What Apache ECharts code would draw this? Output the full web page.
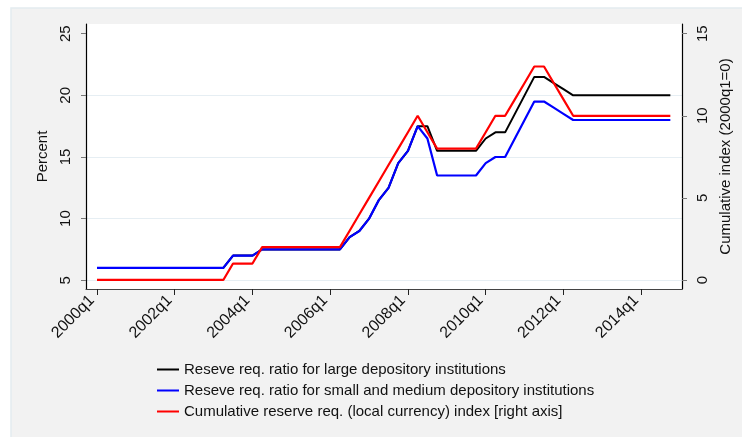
<!DOCTYPE html>
<html>
<head>
<meta charset="utf-8">
<script src="https://cdn.jsdelivr.net/npm/echarts@6/dist/echarts.min.js"></script>
<style>
html,body{margin:0;padding:0;background:#fff;overflow:hidden;}
#chart{width:742px;height:437px;}
</style>
</head>
<body>
<div id="chart"></div>
<script>
const categories = [
  '2000q1','2000q2','2000q3','2000q4','2001q1','2001q2','2001q3','2001q4',
  '2002q1','2002q2','2002q3','2002q4','2003q1','2003q2','2003q3','2003q4',
  '2004q1','2004q2','2004q3','2004q4','2005q1','2005q2','2005q3','2005q4',
  '2006q1','2006q2','2006q3','2006q4','2007q1','2007q2','2007q3','2007q4',
  '2008q1','2008q2','2008q3','2008q4','2009q1','2009q2','2009q3','2009q4',
  '2010q1','2010q2','2010q3','2010q4','2011q1','2011q2','2011q3','2011q4',
  '2012q1','2012q2','2012q3','2012q4','2013q1','2013q2','2013q3','2013q4',
  '2014q1','2014q2','2014q3','2014q4'
];
const largeRatio = [
  6,6,6,6,6,6,6,6,6,6,6,6,6,6,
  7,7,7,
  7.5,7.5,7.5,7.5,7.5,7.5,7.5,7.5,7.5,
  8.5,9,10,11.5,12.5,14.5,15.5,
  17.5,17.5,
  15.5,15.5,15.5,15.5,15.5,
  16.5,17,17,18.5,20,21.5,21.5,21,20.5,
  20,20,20,20,20,20,20,20,20,20,20
];
const smallRatio = [
  6,6,6,6,6,6,6,6,6,6,6,6,6,6,
  7,7,7,
  7.5,7.5,7.5,7.5,7.5,7.5,7.5,7.5,7.5,
  8.5,9,10,11.5,12.5,14.5,15.5,
  17.5,16.5,
  13.5,13.5,13.5,13.5,13.5,
  14.5,15,15,16.5,18,19.5,19.5,19,18.5,
  18,18,18,18,18,18,18,18,18,18,18
];
const cumIndex = [
  0,0,0,0,0,0,0,0,0,0,0,0,0,0,
  1,1,1,
  2,2,2,2,2,2,2,2,2,
  3,4,5,6,7,8,9,
  10,9,
  8,8,8,8,8,
  9,10,10,11,12,13,13,12,11,
  10,10,10,10,10,10,10,10,10,10,10
];
const xTickLabels = ['2000q1','2002q1','2004q1','2006q1','2008q1','2010q1','2012q1','2014q1'];
const leftTicks = [5,10,15,20,25];
const rightTicks = [0,5,10,15];
const seriesNames = [
  'Reseve req. ratio for large depository institutions',
  'Reseve req. ratio for small and medium depository institutions',
  'Cumulative reserve req. (local currency) index [right axis]'
];

const xTickIdx = xTickLabels.map(l => categories.indexOf(l));
const pairs = arr => arr.map((v, i) => [i, v]);
const FONT = 'Liberation Sans, Arial, sans-serif';

const chart = echarts.init(document.getElementById('chart'), null, {renderer: 'canvas'});
chart.setOption({
  backgroundColor: '#ffffff',
  animation: false,
  graphic: [{
    type: 'rect', z: -10, silent: true,
    shape: {x: 11, y: 8, width: 740, height: 440},
    style: {fill: '#f2f2f2', stroke: '#e3ecf0', lineWidth: 1.5}
  }],
  grid: {
    left: 86, top: 24, right: 60, bottom: 148,
    show: true, backgroundColor: '#ffffff', borderWidth: 0
  },
  legend: {
    orient: 'vertical',
    left: 157, top: 362, padding: 0,
    itemWidth: 22, itemHeight: 2, itemGap: 6,
    icon: 'rect',
    textStyle: {fontFamily: FONT, fontSize: 15, color: '#111'},
    data: seriesNames
  },
  xAxis: {
    type: 'value',
    min: -1.13, max: 60.2,
    axisLine: {show: true, onZero: false, lineStyle: {color: '#444', width: 1.2}},
    axisTick: {show: true, length: 6, lineStyle: {color: '#222'}, customValues: xTickIdx},
    axisLabel: {
      customValues: xTickIdx, rotate: 45, margin: 4, padding: [0, 7, 0, 0],
      fontFamily: FONT, fontSize: 16, color: '#111',
      formatter: v => categories[Math.round(v)]
    },
    splitLine: {show: false}
  },
  yAxis: [{
    type: 'value', position: 'left',
    min: 4.29, max: 25.79,
    name: 'Percent', nameLocation: 'middle', nameGap: 27, nameRotate: 90,
    nameTextStyle: {fontFamily: FONT, fontSize: 15, color: '#111'},
    axisLine: {show: true, onZero: false, lineStyle: {color: '#000', width: 1.2}},
    axisTick: {show: true, length: 5, lineStyle: {color: '#777'}, customValues: leftTicks},
    axisLabel: {customValues: leftTicks, rotate: 90, margin: 13, fontFamily: FONT, fontSize: 15, color: '#111'},
    splitLine: {show: true, lineStyle: {color: ['#e6eef3','#e6eef3','#e6eef3','#e6eef3','rgba(0,0,0,0)'], width: 1}}
  }, {
    type: 'value', position: 'right',
    min: -0.55, max: 15.59,
    name: 'Cumulative index (2000q1=0)', nameLocation: 'middle', nameGap: 36, nameRotate: 90,
    nameTextStyle: {fontFamily: FONT, fontSize: 15, color: '#111'},
    axisLine: {show: true, onZero: false, lineStyle: {color: '#000', width: 1.2}},
    axisTick: {show: true, length: 5, lineStyle: {color: '#777'}, customValues: rightTicks},
    axisLabel: {customValues: rightTicks, rotate: 90, margin: 13, fontFamily: FONT, fontSize: 15, color: '#111'},
    splitLine: {show: false}
  }],
  series: [{
    name: seriesNames[0], type: 'line', yAxisIndex: 0,
    data: pairs(largeRatio), symbol: 'none',
    lineStyle: {color: '#000000', width: 2}, itemStyle: {color: '#000000'}
  }, {
    name: seriesNames[1], type: 'line', yAxisIndex: 0,
    data: pairs(smallRatio), symbol: 'none',
    lineStyle: {color: '#0000ff', width: 2.2}, itemStyle: {color: '#0000ff'}
  }, {
    name: seriesNames[2], type: 'line', yAxisIndex: 1,
    data: pairs(cumIndex), symbol: 'none',
    lineStyle: {color: '#ff0000', width: 2.2}, itemStyle: {color: '#ff0000'}
  }]
});
</script>
</body>
</html>
